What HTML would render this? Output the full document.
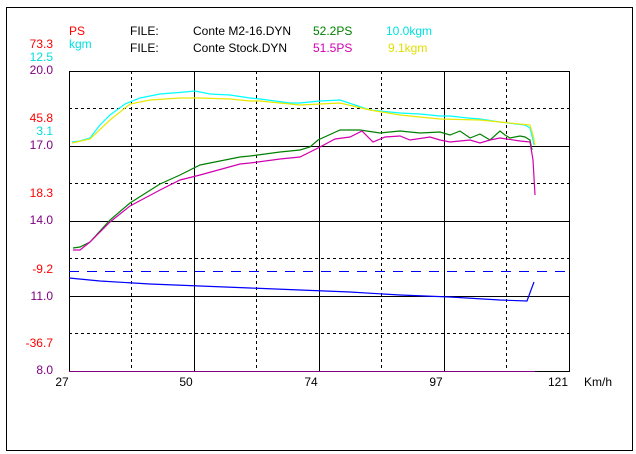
<!DOCTYPE html>
<html><head><meta charset="utf-8"><style>
body{margin:0;background:#fff;width:636px;height:454px;overflow:hidden}
svg{display:block}
text{font-family:"Liberation Sans",sans-serif;font-size:12px}
</style></head><body>
<svg width="636" height="454" viewBox="0 0 636 454" xmlns="http://www.w3.org/2000/svg">
<rect x="6.5" y="7.5" width="626" height="443" fill="none" stroke="#000" stroke-width="1"/>
<g stroke="#000" stroke-width="1" shape-rendering="crispEdges">
<rect x="69.5" y="71.5" width="500" height="300" fill="none"/>
<line x1="194.5" y1="71" x2="194.5" y2="371"/>
<line x1="319.5" y1="71" x2="319.5" y2="371"/>
<line x1="444.5" y1="71" x2="444.5" y2="371"/>
<line x1="69" y1="146.5" x2="569" y2="146.5"/>
<line x1="69" y1="221.5" x2="569" y2="221.5"/>
<line x1="69" y1="296.5" x2="569" y2="296.5"/>
<g stroke-dasharray="3,3">
<line x1="131.5" y1="71" x2="131.5" y2="371"/>
<line x1="256.5" y1="71" x2="256.5" y2="371"/>
<line x1="381.5" y1="71" x2="381.5" y2="371"/>
<line x1="506.5" y1="71" x2="506.5" y2="371"/>
<line x1="69" y1="108.5" x2="569" y2="108.5"/>
<line x1="69" y1="183.5" x2="569" y2="183.5"/>
<line x1="69" y1="258.5" x2="569" y2="258.5"/>
<line x1="69" y1="333.5" x2="569" y2="333.5"/>
</g>
<line x1="69" y1="371.5" x2="535" y2="371.5" stroke="#800080"/>
<line x1="69" y1="271.5" x2="567" y2="271.5" stroke="#0000ff" stroke-dasharray="10,8"/>
</g>
<g fill="none" stroke-width="1.2">
<polyline stroke="#00ffff" points="72,142 80,141 90,138 100,125 110,115 125,104 140,98 160,94 185,92 195,91 210,94 230,95 250,98 260,99 290,103 300,103 320,101 340,100 370,110 400,113 420,114 440,116 450,116 468,118 480,119 500,122 525,125 530,128 533,140 534,145"/>
<polyline stroke="#e8e800" points="72,143 90,139 110,120 130,104 150,100 180,98 200,98 230,99 250,101 260,101 300,105 320,104 340,103 370,110 400,115 440,119 480,120 500,122 530,125 533,135 535,145"/>
<polyline stroke="#008000" points="73,248 80,247 90,242 110,220 130,203 160,184 180,175 200,165 240,157 250,156 280,152 300,150 310,147 318,140 340,130 360,130 380,133 400,131 420,133 440,132 450,135 460,131 470,138 480,134 490,140 500,131 505,135 510,138 520,136 525,137 530,140 532,150"/>
<polyline stroke="#d000b0" points="73,250 80,250 90,242 110,222 130,206 160,190 180,180 200,175 240,164 250,163 280,159 300,157 320,147 335,139 350,137 362,131 373,142 385,137 400,136 410,140 430,137 440,140 450,142 470,140 480,143 490,140 500,138 520,141 530,142 533,160 535,195"/>
<polyline stroke="#0000ff" points="69,278 100,281 150,284 200,286 250,288 300,290 350,292 400,295 450,297 500,300 527,301 531,290 534,282"/>
</g>
<g text-anchor="end">
<text x="53" y="48" fill="#ff0000">73.3</text>
<text x="53" y="61" fill="#00e0e0">12.5</text>
<text x="53" y="74" fill="#800080">20.0</text>
<text x="53" y="122" fill="#ff0000">45.8</text>
<text x="53" y="135" fill="#00e0e0">3.1</text>
<text x="53" y="149" fill="#800080">17.0</text>
<text x="53" y="197" fill="#ff0000">18.3</text>
<text x="53" y="224" fill="#800080">14.0</text>
<text x="53" y="273" fill="#ff0000">-9.2</text>
<text x="53" y="300" fill="#800080">11.0</text>
<text x="53" y="347" fill="#ff0000">-36.7</text>
<text x="53" y="374" fill="#800080">8.0</text>
</g>
<text x="69" y="35" fill="#ff0000">PS</text>
<text x="69" y="48" fill="#00e0e0" font-size="11">kgm</text>
<text x="130" y="35">FILE:</text>
<text x="130" y="52">FILE:</text>
<text x="193" y="35">Conte M2-16.DYN</text>
<text x="193" y="52">Conte Stock.DYN</text>
<text x="313" y="35" fill="#008000">52.2PS</text>
<text x="313" y="52" fill="#d000b0">51.5PS</text>
<text x="386" y="35" fill="#00e0e0">10.0kgm</text>
<text x="388" y="52" fill="#e0e000">9.1kgm</text>
<g text-anchor="middle">
<text x="62" y="386">27</text>
<text x="186" y="386">50</text>
<text x="311" y="386">74</text>
<text x="436" y="386">97</text>
<text x="558" y="386">121</text>
</g>
<text x="584" y="386">Km/h</text>
</svg>
</body></html>
